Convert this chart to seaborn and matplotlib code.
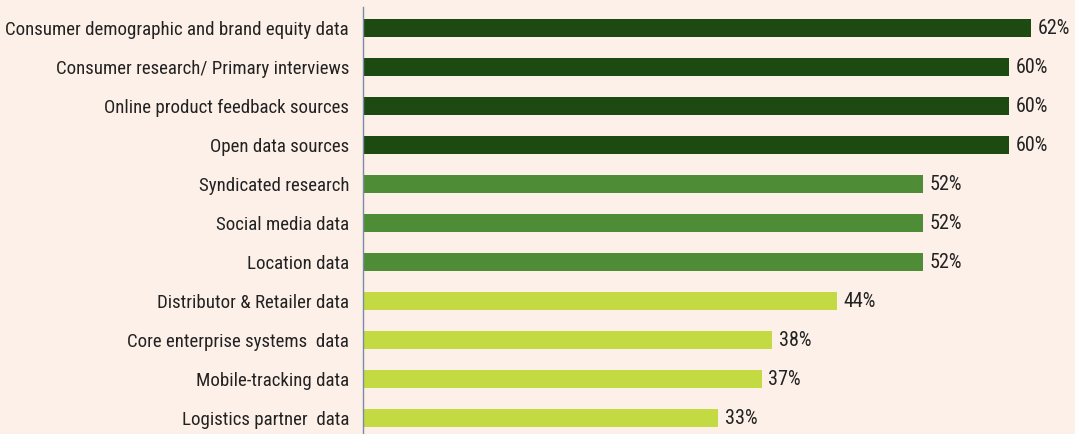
import matplotlib
matplotlib.use("Agg")
import matplotlib.pyplot as plt
import seaborn as sns
import pandas as pd

categories = [
    "Consumer demographic and brand equity data",
    "Consumer research/ Primary interviews",
    "Online product feedback sources",
    "Open data sources",
    "Syndicated research",
    "Social media data",
    "Location data",
    "Distributor & Retailer data",
    "Core enterprise systems  data",
    "Mobile-tracking data",
    "Logistics partner  data",
]
values = [62, 60, 60, 60, 52, 52, 52, 44, 38, 37, 33]
tiers = ["top", "top", "top", "top", "mid", "mid", "mid", "low", "low", "low", "low"]
tier_colors = {"top": "#1c4a11", "mid": "#4f8c36", "low": "#c4da42"}

df = pd.DataFrame({"category": categories, "value": values, "tier": tiers})

bg = "#fdf0e8"
sns.set_theme(style="white")
plt.rcParams["font.family"] = ["Roboto Condensed", "DejaVu Sans"]

fig = plt.figure(figsize=(10.75, 4.34), dpi=100, facecolor=bg)
ax = fig.add_axes([363 / 1075, 0.0, 1 - 363 / 1075, 1 - 7 / 434])
ax.set_facecolor(bg)

sns.barplot(data=df, y="category", x="value", hue="tier", palette=tier_colors,
            orient="h", dodge=False, legend=False, width=0.45, ax=ax,
            saturation=1, linewidth=0)

for i, v in enumerate(values):
    ax.text(v + 0.6, i, f"{v}%", va="center", ha="left", fontsize=14.5, color="#222222")

ax.set_xlim(0, 66.1)
ax.set_ylim(10.41, -0.54)
ax.set_xlabel("")
ax.set_ylabel("")
ax.set_xticks([])
ax.tick_params(axis="y", length=0, pad=10, labelsize=13.6, labelcolor="#222222")
for s in ["top", "right", "bottom"]:
    ax.spines[s].set_visible(False)
ax.spines["left"].set_color("#7a8aa8")
ax.spines["left"].set_linewidth(1.0)

fig.savefig("out.png", dpi=100, facecolor=bg)
